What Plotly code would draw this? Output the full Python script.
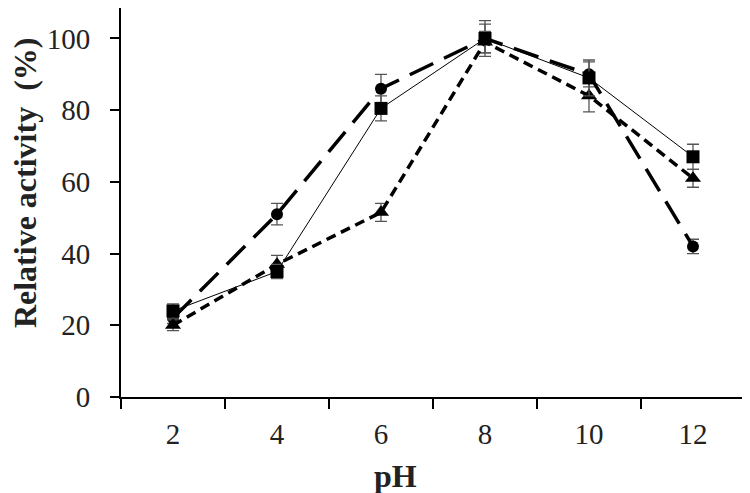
import plotly.graph_objects as go

ph = ["2", "4", "6", "8", "10", "12"]

circle_vals = [22, 51, 86, 100, 90, 42]
circle_err = [1.5, 3, 4, 4, 3.5, 2]

square_vals = [24, 35, 80.5, 100, 89, 67]
square_err = [2, 2, 3.5, 5, 5, 3.5]

triangle_vals = [20, 37, 51.5, 99, 84, 61]
triangle_err = [1.5, 2.5, 2.5, 3, 4.5, 2.5]

ERR_COLOR = "#555555"


def err(vals):
    return dict(type="data", array=vals, color=ERR_COLOR, thickness=1.3, width=6)


fig = go.Figure()

fig.add_trace(go.Scatter(
    x=ph, y=circle_vals, mode="lines+markers", name="circle",
    line=dict(color="black", width=3.5, dash="26px,12px"),
    marker=dict(symbol="circle", size=12, color="black"),
    error_y=err(circle_err),
))
fig.add_trace(go.Scatter(
    x=ph, y=triangle_vals, mode="lines+markers", name="triangle",
    line=dict(color="black", width=3.5, dash="10px,6px"),
    marker=dict(symbol="triangle-up", size=14, color="black"),
    error_y=err(triangle_err),
))
fig.add_trace(go.Scatter(
    x=ph, y=square_vals, mode="lines+markers", name="square",
    line=dict(color="black", width=1),
    marker=dict(symbol="square", size=13, color="black"),
    error_y=err(square_err),
))

font = '"Liberation Serif", "Times New Roman", serif'

# page body adds an 8px margin, so the figure is sized to the visible area
fig.update_layout(
    width=742, height=485,
    margin=dict(l=113, r=5, t=0, b=96),
    paper_bgcolor="white", plot_bgcolor="white",
    showlegend=False,
    font=dict(family=font, color="#222222", size=29),
    xaxis=dict(
        type="category", range=[-0.5, 5.5], automargin=False,
        showline=True, linecolor="black", linewidth=2,
        ticks="outside", tickson="boundaries", ticklen=10, tickwidth=2, tickcolor="black",
        showgrid=False, zeroline=False,
        tickfont=dict(size=29, family=font),
        ticklabelstandoff=10,
    ),
    yaxis=dict(
        range=[0, 108.5], tickvals=[0, 20, 40, 60, 80, 100], automargin=False,
        showline=True, linecolor="black", linewidth=2,
        ticks="outside", ticklen=9, tickwidth=2, tickcolor="black",
        showgrid=False, zeroline=False,
        tickfont=dict(size=29, family=font),
        ticklabelstandoff=14,
    ),
    annotations=[
        dict(text="<b>pH</b>", xref="paper", yref="paper", x=0.4407, y=-0.2031,
             xanchor="center", yanchor="middle", showarrow=False,
             font=dict(size=32, family=font, color="#222222")),
        dict(text="<b>Relative activity  (%)</b>", xref="paper", yref="paper",
             x=-0.1538, y=0.55, textangle=-90,
             xanchor="center", yanchor="middle", showarrow=False,
             font=dict(size=32, family=font, color="#222222")),
    ],
)

fig.write_html("out.html")
